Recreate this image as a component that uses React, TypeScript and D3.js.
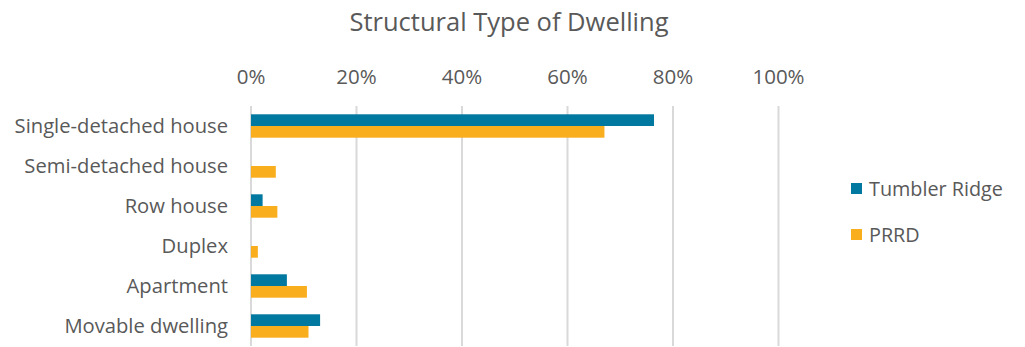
import React from "react";
import * as d3 from "d3";

const categories = ["Single-detached house", "Semi-detached house", "Row house", "Duplex", "Apartment", "Movable dwelling"];
const seriesNames = ["Tumbler Ridge", "PRRD"];
const tumblerRidge = [76.4, 0, 2.2, 0, 6.8, 13.1];
const prrd = [67.0, 4.7, 5.0, 1.3, 10.6, 10.9];
const xTicks = [0, 20, 40, 60, 80, 100];
const colors = ["#00789F", "#F9AE1E"];

export default function App() {
  const W = 1025, H = 347;
  const left = 251, right = 778.5, top = 106, bottom = 346;
  const x = d3.scaleLinear().domain([0, 100]).range([left, right]);
  const y = d3.scaleBand().domain(categories).range([top, bottom]);
  const inner = d3.scaleBand().domain(seriesNames).range([0, 23.4]);
  const series = [tumblerRidge, prrd];
  const font = "Open Sans, Liberation Sans, sans-serif";
  const gray = "#595959";
  return (
    <svg width={W} height={H} style={{ position: "absolute", left: 0, top: 0 }} fontFamily={font}>
      <rect width={W} height={H} fill="#fff" />
      <text x={509} y={31} textAnchor="middle" fontSize={25.5} fill={gray}>Structural Type of Dwelling</text>
      {xTicks.map((t) => (
        <g key={t}>
          <line x1={x(t)} x2={x(t)} y1={top} y2={bottom} stroke="#D9D9D9" strokeWidth={2} />
          <text x={x(t)} y={84} textAnchor="middle" fontSize={20.5} fill={gray}>{t}%</text>
        </g>
      ))}
      {categories.map((c, i) => {
        const cy = (y(c) as number) + y.bandwidth() / 2;
        return (
          <g key={c}>
            <text x={228} y={cy + 7} textAnchor="end" fontSize={20.2} fill={gray}>{c}</text>
            {series.map((s, j) => (
              s[i] > 0 ? (
                <rect key={j} x={x(0)} y={cy - 11.7 + (inner(seriesNames[j]) as number)} width={x(s[i]) - x(0)} height={inner.bandwidth()} fill={colors[j]} />
              ) : null
            ))}
          </g>
        );
      })}
      {seriesNames.map((n, j) => (
        <g key={n}>
          <rect x={851} y={183 + j * 46} width={11} height={11} fill={colors[j]} />
          <text x={869} y={196 + j * 46} fontSize={19.8} fill={gray}>{n}</text>
        </g>
      ))}
    </svg>
  );
}
